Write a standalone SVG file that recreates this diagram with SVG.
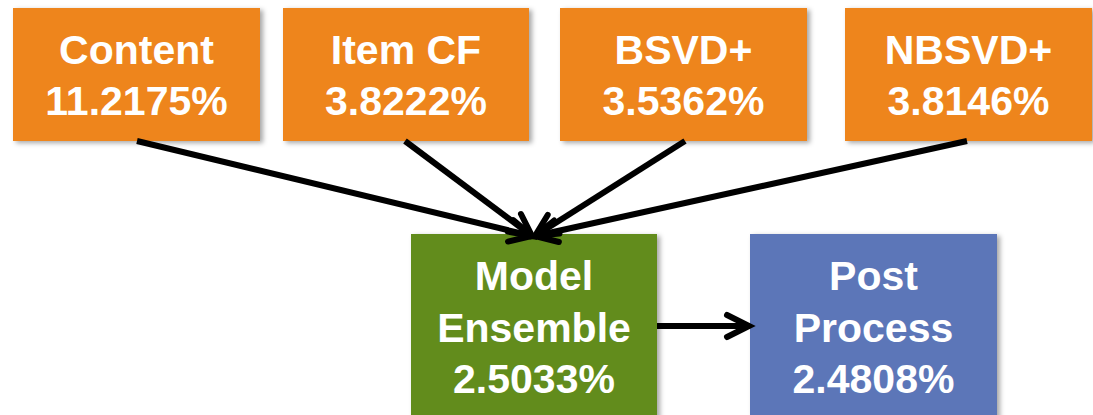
<svg xmlns="http://www.w3.org/2000/svg" width="1093" height="415" viewBox="0 0 1093 415">
<style>
.t{font-family:"Liberation Sans",Arial,sans-serif;font-weight:bold;font-size:41px;fill:#fff;text-anchor:middle}
.o{fill:#EE851B}
.g{fill:#628C1A}
.b{fill:#5C76B8}
.c{stroke:#000;stroke-width:6;fill:none}
</style>
<defs>
<filter id="sh" x="-10%" y="-10%" width="125%" height="130%">
<feDropShadow dx="3" dy="2" stdDeviation="2.5" flood-color="#000" flood-opacity="0.35"/>
</filter>
<marker id="arr" markerUnits="userSpaceOnUse" viewBox="-30 -16 40 32" markerWidth="40" markerHeight="32" refX="0" refY="0" orient="auto">
<path d="M-22,-11 L0,0 L-22,11" fill="none" stroke="#000" stroke-width="6" stroke-linecap="round" stroke-linejoin="miter"/>
</marker>
</defs>
<rect width="1093" height="415" fill="#fff"/>
<g id="content"><rect class="o" x="13" y="8" width="247" height="133" filter="url(#sh)"/><text class="t" x="136.5" y="64">Content</text><text class="t" x="136.5" y="115">11.2175%</text></g>
<g id="itemcf"><rect class="o" x="283" y="8" width="246" height="133" filter="url(#sh)"/><text class="t" x="406" y="64">Item CF</text><text class="t" x="406" y="115">3.8222%</text></g>
<g id="bsvd"><rect class="o" x="560" y="8" width="247" height="133" filter="url(#sh)"/><text class="t" x="683.5" y="64">BSVD+</text><text class="t" x="683.5" y="115">3.5362%</text></g>
<g id="nbsvd"><rect class="o" x="845" y="8" width="247" height="133" filter="url(#sh)"/><text class="t" x="968.5" y="64">NBSVD+</text><text class="t" x="968.5" y="115">3.8146%</text></g>
<g id="ensemble"><rect class="g" x="411" y="234" width="246" height="200" filter="url(#sh)"/><text class="t" x="534" y="290">Model</text><text class="t" x="534" y="342">Ensemble</text><text class="t" x="534" y="393">2.5033%</text></g>
<g id="post"><rect class="b" x="750" y="234" width="247" height="200" filter="url(#sh)"/><text class="t" x="873.5" y="290">Post</text><text class="t" x="873.5" y="342">Process</text><text class="t" x="873.5" y="393">2.4808%</text></g>
<g id="connectors">
<line class="c" x1="137" y1="141" x2="532" y2="236" marker-end="url(#arr)"/>
<line class="c" x1="405" y1="141" x2="532" y2="236" marker-end="url(#arr)"/>
<line class="c" x1="685" y1="141" x2="535" y2="236" marker-end="url(#arr)"/>
<line class="c" x1="967" y1="141" x2="535" y2="236" marker-end="url(#arr)"/>
<line class="c" x1="657" y1="326" x2="749" y2="326" marker-end="url(#arr)"/>
</g>
</svg>
